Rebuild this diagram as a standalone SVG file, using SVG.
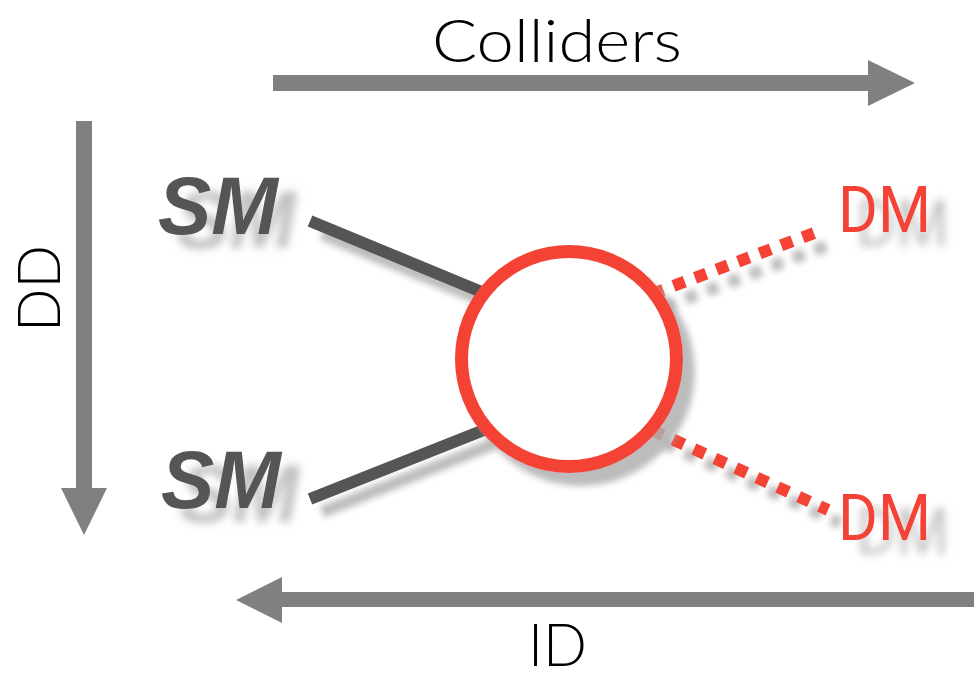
<svg xmlns="http://www.w3.org/2000/svg" width="974" height="674" viewBox="0 0 974 674">
<defs>
<filter id="sh" x="-30%" y="-30%" width="180%" height="180%">
<feOffset in="SourceAlpha" dx="12" dy="13" result="o"/>
<feGaussianBlur in="o" stdDeviation="3" result="b"/>
<feFlood flood-color="#b0b0b0" flood-opacity="0.85"/>
<feComposite in2="b" operator="in" result="s"/>
<feMerge><feMergeNode in="s"/><feMergeNode in="SourceGraphic"/></feMerge>
</filter>
<filter id="shT" x="-30%" y="-30%" width="180%" height="180%">
<feOffset in="SourceAlpha" dx="18" dy="14" result="o"/>
<feGaussianBlur in="o" stdDeviation="4" result="b"/>
<feFlood flood-color="#b8b8b8" flood-opacity="0.9"/>
<feComposite in2="b" operator="in" result="s"/>
<feMerge><feMergeNode in="s"/><feMergeNode in="SourceGraphic"/></feMerge>
</filter>
</defs>
<style>
.arr{fill:#808080}
.lbl{font-family:Lato,"Open Sans",sans-serif;font-weight:300;fill:#000;font-size:60px}
.sm{font-family:"Liberation Sans",Arial,sans-serif;font-weight:bold;font-style:italic;fill:#555;font-size:82px}
.dm{font-family:Roboto,"Liberation Sans",sans-serif;font-weight:400;fill:#f44336;font-size:64px}
.sml{stroke:#555;stroke-width:12;fill:none}
.dml{stroke:#f44336;stroke-width:12;fill:none;stroke-dasharray:12 11}
</style>
<rect width="974" height="674" fill="#fff"/>
<g id="connectors">
<g id="colliders-arrow">
<rect class="arr" x="273" y="75" width="597" height="16"/>
<polygon class="arr" points="868,60 915,83 868,106"/>
</g>
<g id="dd-arrow">
<rect class="arr" x="76" y="121" width="16" height="370"/>
<polygon class="arr" points="61,488 107,488 84,535"/>
</g>
<g id="id-arrow">
<rect class="arr" x="280" y="592" width="694" height="15"/>
<polygon class="arr" points="282,577 282,623 236,600"/>
</g>
<g id="sm-lines" filter="url(#sh)">
<line class="sml" x1="310" y1="221" x2="484" y2="293"/>
<line class="sml" x1="310" y1="499" x2="484" y2="430"/>
</g>
<g id="dm-lines" filter="url(#sh)">
<line class="dml" x1="652" y1="294" x2="822" y2="230"/>
<line class="dml" x1="652" y1="430" x2="828" y2="510"/>
</g>
</g>
<g id="vertex" filter="url(#sh)">
<circle cx="569" cy="359" r="107.5" fill="#fff" stroke="#f44336" stroke-width="13"/>
</g>
<g id="label-colliders"><text class="lbl" x="432" y="62" textLength="250" lengthAdjust="spacingAndGlyphs">Colliders</text></g>
<g id="label-dd"><text class="lbl" transform="translate(60,332) rotate(-90)" x="0" y="0" textLength="87" lengthAdjust="spacingAndGlyphs">DD</text></g>
<g id="label-id"><text class="lbl" x="528" y="666" textLength="59" lengthAdjust="spacingAndGlyphs">ID</text></g>
<g id="sm-top" filter="url(#shT)"><text class="sm" x="158" y="234" textLength="120" lengthAdjust="spacingAndGlyphs">SM</text></g>
<g id="sm-bottom" filter="url(#shT)"><text class="sm" x="161" y="508" textLength="120" lengthAdjust="spacingAndGlyphs">SM</text></g>
<g id="dm-top" filter="url(#shT)"><text class="dm" x="838" y="232" textLength="93" lengthAdjust="spacingAndGlyphs">DM</text></g>
<g id="dm-bottom" filter="url(#shT)"><text class="dm" x="838" y="540" textLength="93" lengthAdjust="spacingAndGlyphs">DM</text></g>
</svg>
